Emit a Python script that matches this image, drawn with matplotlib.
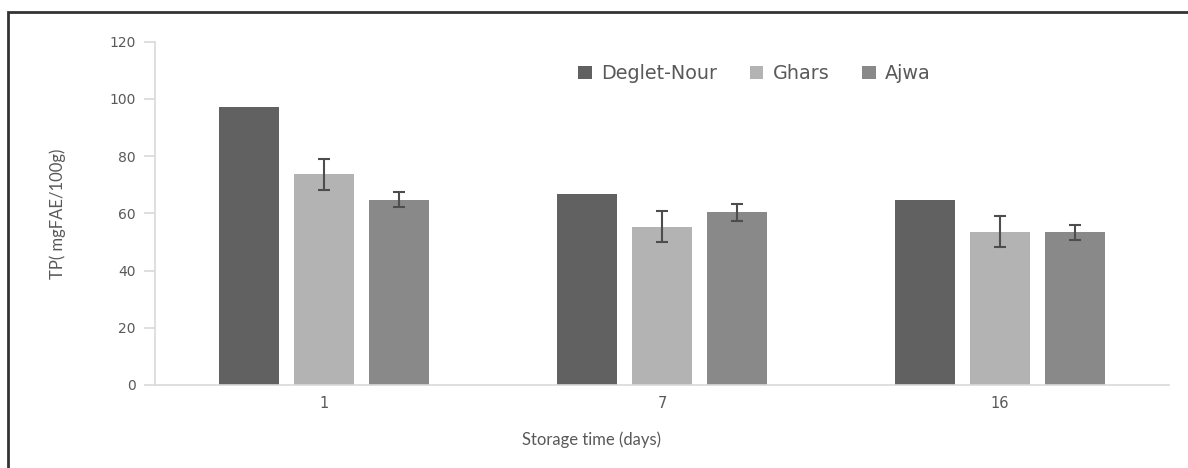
import matplotlib
matplotlib.use("Agg")
import matplotlib.pyplot as plt
import numpy as np
from matplotlib.patches import Rectangle

plt.rcParams['font.family'] = ['DejaVu Sans']

categories = ["1", "7", "16"]
series = ["Deglet-Nour", "Ghars", "Ajwa"]
deglet = [97.1, 66.8, 64.8]
ghars = [73.6, 55.3, 53.6]
ajwa = [64.8, 60.3, 53.4]
deglet_err = [0, 0, 0]
ghars_err = [5.3, 5.4, 5.4]
ajwa_err = [2.5, 2.8, 2.7]
colors = ["#616161", "#b3b3b3", "#898989"]

values = [deglet, ghars, ajwa]
errors = [deglet_err, ghars_err, ajwa_err]

fig = plt.figure(figsize=(11.88, 4.68), dpi=100)
ax = fig.add_axes([155/1188, 1-385/468, (1169-155)/1188, (385-41.7)/468])

x = np.arange(len(categories))
width = 0.176
pitch = 0.222
for i, (name, vals, errs, c) in enumerate(zip(series, values, errors, colors)):
    pos = x + (i-1)*pitch
    ax.bar(pos, vals, width=width, color=c, label=name, zorder=2)
    e = np.array(errs, dtype=float)
    mask = e > 0
    if mask.any():
        ax.errorbar(pos[mask], np.array(vals)[mask], yerr=e[mask], fmt='none',
                    ecolor='#4d4d4d', elinewidth=1.5, capsize=4.5, capthick=1.5, zorder=3)

ax.set_xlim(-0.5, 2.5)
ax.set_ylim(0, 120)
ax.set_yticks([0, 20, 40, 60, 80, 100, 120])
ax.set_xticks(x)
ax.set_xticklabels(categories)
for s in ['top', 'right']:
    ax.spines[s].set_visible(False)
for s in ['left', 'bottom']:
    ax.spines[s].set_color('#d9d9d9')
    ax.spines[s].set_linewidth(1.2)
ax.tick_params(axis='y', length=8, width=1.2, color='#d9d9d9', labelcolor='#595959', labelsize=10, pad=6)
ax.tick_params(axis='x', length=0, labelcolor='#595959', labelsize=10.5, pad=8)

ax.set_ylabel("TP( mgFAE/100g)", color='#595959', fontsize=12, family=['Lato', 'DejaVu Sans'])
ax.yaxis.set_label_coords((66-155)/(1169-155), 0.5)
ax.set_xlabel("Storage time (days)", color='#595959', fontsize=12, family=['Lato', 'DejaVu Sans'])
ax.xaxis.set_label_coords((592-155)/(1169-155), -0.135)

leg = ax.legend(loc='upper left', bbox_to_anchor=((561-155)/(1169-155), 0.985), ncol=3, frameon=False,
                fontsize=13.8, handlelength=0.7, handleheight=0.7, handletextpad=0.5,
                columnspacing=1.7, labelcolor='#595959')

fig.patches.append(Rectangle((8/1188, -0.05), (1194-8)/1188, 1.05 - 12/468,
                             transform=fig.transFigure, fill=False,
                             edgecolor='#333333', linewidth=2))

fig.savefig("out.png", dpi=100)
